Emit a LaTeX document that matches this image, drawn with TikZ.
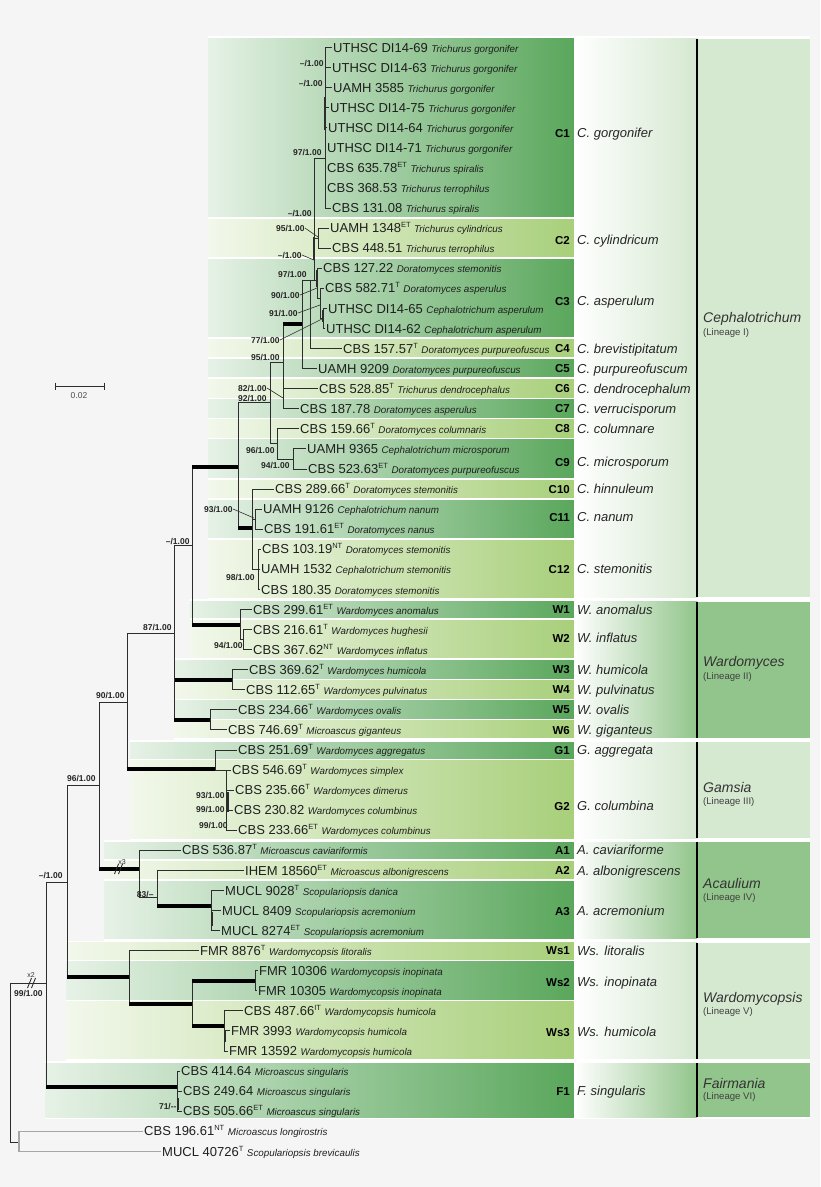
\documentclass[tikz,border=0pt]{standalone}
\usepackage{fontspec}
\setmainfont{Liberation Sans}
\definecolor{bg}{RGB}{245,245,245}
\definecolor{bandA}{RGB}{90,167,92}
\definecolor{bandB}{RGB}{168,207,122}
\definecolor{linL}{RGB}{213,232,208}
\definecolor{linM}{RGB}{146,197,139}
\definecolor{branch}{RGB}{45,45,45}
\newcommand{\strainfont}{\fontsize{13}{15}\selectfont}
\newcommand{\spfont}{\fontsize{9.8}{11}\selectfont\itshape}
\newcommand{\ts}[1]{\raisebox{5pt}{\fontsize{7.5}{8}\selectfont #1}}
\tikzset{br/.style={
            draw=branch,
            line width=0.9pt
        },
        thk/.style={
            draw=black,
            line width=4pt
        },
        og/.style={
            draw=gray!70,
            line width=1.4pt
        },
        ptr/.style={
            draw=branch,
            line width=0.6pt
        },
        leaf/.style={
            anchor=west,
            inner xsep=1.5pt,
            inner ysep=0pt,
            text height=9.3pt,
            text depth=0pt,
            font=\strainfont,
            text=black!88
        },
        supp/.style={
            anchor=east,
            inner sep=0.3pt,
            text height=6pt,
            text depth=0pt,
            font=\fontsize{8.5}{10}\selectfont\bfseries,
            text=black!85
        },
        cladelab/.style={
            anchor=east,
            inner sep=0pt,
            text height=8.2pt,
            text depth=0pt,
            font=\fontsize{11.5}{13}\selectfont\bfseries
        },
        spname/.style={
            anchor=west,
            inner sep=0pt,
            text height=9.3pt,
            text depth=0pt,
            font=\fontsize{13}{15}\selectfont\itshape,
            text=black!85
        },
        lineage/.style={
            anchor=west,
            inner sep=0pt,
            text height=10pt,
            text depth=0pt,
            font=\fontsize{14}{16}\selectfont\itshape,
            text=black!80
        },
        lineagesub/.style={
            anchor=west,
            inner sep=0pt,
            font=\fontsize{9.6}{11}\selectfont,
            text=black!75
        },
        brklab/.style={
            inner sep=0pt,
            font=\fontsize{7}{8}\selectfont,
            text=black!80
        }
    }
% leaf: [line style]{name}{parent}{x of text}{row}{strain}{species}
\newcommand{\leaf}[7][br]{%
    \node[leaf] (#2) at (#4-1.5,{47.5+20.07*#5}) {#6 {\spfont #7}};
    \draw[#1] (#3) |- (#2.west);}
\newcommand{\branch}[2]{\draw[br] (#1) |- (#2);}
\newcommand{\tbranch}[2]{\draw[br] (#1) |- (#2); \draw[thk] (#1 |- #2) -- (#2);}
\newcommand{\supp}[4]{\node[supp] (#1) at (#2,#3) {#4};}

\begin{document}
\begin{tikzpicture}[x=1pt,y=-1pt]
        \useasboundingbox (0,0) rectangle (820,1187);
        \fill[bg] (0,0) rectangle (820,1187);

        % clade bands
        \foreach \lx/\ya/\yb/\bc in {208/37.5/218.1/bandA, 208/218.1/258.2/bandB,
            208/258.2/338.5/bandA, 208/338.5/358.6/bandB, 208/358.6/378.6/bandA,
            208/378.6/398.7/bandB, 208/398.7/418.8/bandA, 208/418.8/438.8/bandB,
            208/438.8/479.0/bandA, 208/479.0/499.0/bandB, 208/499.0/539.2/bandA,
            208/539.2/598.2/bandB, 190/600.6/619.5/bandA, 190/619.5/659.6/bandB,
            174/659.6/679.7/bandA, 174/679.7/699.7/bandB, 174/699.7/719.8/bandA,
            174/719.8/738.7/bandB, 130/741.1/759.9/bandA, 130/759.9/839.0/bandB,
            104/841.4/860.3/bandA, 104/860.3/880.4/bandB, 104/880.4/939.4/bandA,
            66/941.8/960.7/bandB, 66/960.7/1000.8/bandA, 66/1000.8/1059.8/bandB,
            45/1062.2/1118/bandA}{
            \fill[white] (\lx,\ya-1.2) rectangle (574,\yb+1.2);
            \shade[left color=\bc!15!white, right color=\bc] (\lx,\ya+1) rectangle (574,\yb-1);
        }

        % species and lineage columns
        \fill[white] (574,36.3) rectangle (810,1119);
        \foreach \ya/\yb/\lc in {38.5/597.2/linL, 601.6/737.7/linM, 742.1/838.0/linL,
            842.4/938.4/linM, 942.8/1058.8/linL, 1063.2/1117/linM}{
            \shade[left color=white, right color=\lc] (574,\ya) rectangle (697,\yb);
            \fill[\lc] (697,\ya) rectangle (810,\yb);
            \draw[line width=1.6pt] (697,\ya) -- (697,\yb);
        }

        % internal nodes
        \coordinate (nC1) at (325,158);
        \coordinate (nC2) at (318,238);
        \coordinate (nC3) at (317,280);
        \coordinate (nC3a) at (320,298);
        \coordinate (nC3b) at (323,318);
        \coordinate (nCa) at (314,280);
        \coordinate (nCb) at (310,280);
        \coordinate (nCc) at (302,324);
        \coordinate (nCd) at (283,362);
        \coordinate (nCe) at (270,402);
        \coordinate (nC89) at (277,443);
        \coordinate (nC9) at (293,459);
        \coordinate (nCeph) at (238,467);
        \coordinate (nC1012) at (252,528);
        \coordinate (nC11) at (255,519);
        \coordinate (nC12) at (258,569);
        \coordinate (nCW) at (192,545);
        \coordinate (nW12) at (240,625);
        \coordinate (nW2) at (243,639);
        \coordinate (nWard) at (174,633);
        \coordinate (nW34) at (232,680);
        \coordinate (nW56) at (210,720);
        \coordinate (nWG) at (127,702);
        \coordinate (nG) at (215,769);
        \coordinate (nG2) at (226,770);
        \coordinate (nB1) at (99,785);
        \coordinate (nA) at (139,869);
        \coordinate (nA23) at (157,897);
        \coordinate (nA3) at (211,906);
        \coordinate (nB2) at (67,882);
        \coordinate (nWs) at (129,977);
        \coordinate (nWs23) at (192,1004);
        \coordinate (nWs2) at (255,981);
        \coordinate (nWs3) at (224,1026);
        \coordinate (nIn) at (46,983);
        \coordinate (nF) at (177,1087);
        \coordinate (nRoot) at (10,1062);
        \coordinate (nOut) at (19,1142);

        \branch{nCa}{nC1} \branch{nCa}{nC2} \branch{nCa}{nC3}
        \branch{nC3}{nC3a} \branch{nC3a}{nC3b}
        \branch{nCb}{nCa} \branch{nCc}{nCb}
        \tbranch{nCd}{nCc}
        \branch{nCe}{nCd} \branch{nCe}{nC89} \branch{nC89}{nC9}
        \branch{nCeph}{nCe} \tbranch{nCeph}{nC1012}
        \branch{nC1012}{nC11} \branch{nC1012}{nC12}
        \tbranch{nCW}{nCeph} \tbranch{nCW}{nW12}
        \branch{nW12}{nW2}
        \branch{nWard}{nCW} \tbranch{nWard}{nW34} \tbranch{nWard}{nW56}
        \branch{nWG}{nWard} \tbranch{nWG}{nG}
        \branch{nG}{nG2}
        \branch{nB1}{nWG} \tbranch{nB1}{nA}
        \branch{nA}{nA23} \tbranch{nA23}{nA3}
        \branch{nB2}{nB1} \tbranch{nB2}{nWs}
        \tbranch{nWs}{nWs23}
        \tbranch{nWs23}{nWs2} \tbranch{nWs23}{nWs3}
        \branch{nIn}{nB2} \tbranch{nIn}{nF}
        \branch{nRoot}{nIn} \branch{nRoot}{nOut}

        % short thick branches inside clades
        \draw[br, line width=2pt] (325,97) -- (325,130);
        \draw[br, line width=2.5pt] (314,237) -- (314,260);
        \draw[br, line width=2pt] (317,270) -- (317,287);
        \draw[br, line width=2pt] (323,310) -- (323,322);
        \draw[br, line width=2pt] (228,792) -- (228,812);
        \draw[br, line width=2pt] (212,912) -- (212,926);
        \draw[br, line width=2pt] (225,1030) -- (225,1042);
        \draw[br, line width=2pt] (178,1098) -- (178,1110);

        % breaks
        \coordinate (brkA) at (118,869);
        \draw[br] (brkA) ++(-3.5,5) -- ++(4,-10);
        \draw[br] (brkA) ++(0.5,5) -- ++(4,-10);
        \node[brklab] (x3) at (122,862) {x3};
        \coordinate (brkR) at (31,983);
        \draw[br] (brkR) ++(-3.5,5) -- ++(4,-10);
        \draw[br] (brkR) ++(0.5,5) -- ++(4,-10);
        \node[brklab] (x2) at (31,975) {x2};

        % leaves
        \leaf{l0}{nC1}{333}{0}{UTHSC DI14-69}{Trichurus gorgonifer}
        \leaf{l1}{nC1}{332}{1}{UTHSC DI14-63}{Trichurus gorgonifer}
        \leaf{l2}{nC1}{333}{2}{UAMH 3585}{Trichurus gorgonifer}
        \leaf{l3}{nC1}{330}{3}{UTHSC DI14-75}{Trichurus gorgonifer}
        \leaf{l4}{nC1}{328}{4}{UTHSC DI14-64}{Trichurus gorgonifer}
        \leaf{l5}{nC1}{327}{5}{UTHSC DI14-71}{Trichurus gorgonifer}
        \leaf{l6}{nC1}{327}{6}{CBS 635.78\ts{ET}}{Trichurus spiralis}
        \leaf{l7}{nC1}{327}{7}{CBS 368.53}{Trichurus terrophilus}
        \leaf{l8}{nC1}{332}{8}{CBS 131.08}{Trichurus spiralis}
        \leaf{l9}{nC2}{330}{9}{UAMH 1348\ts{ET}}{Trichurus cylindricus}
        \leaf{l10}{nC2}{332}{10}{CBS 448.51}{Trichurus terrophilus}
        \leaf{l11}{nC3}{323}{11}{CBS 127.22}{Doratomyces stemonitis}
        \leaf{l12}{nC3a}{325}{12}{CBS 582.71\ts{T}}{Doratomyces asperulus}
        \leaf{l13}{nC3b}{328}{13}{UTHSC DI14-65}{Cephalotrichum asperulum}
        \leaf{l14}{nC3b}{326}{14}{UTHSC DI14-62}{Cephalotrichum asperulum}
        \leaf{l15}{nCb}{343}{15}{CBS 157.57\ts{T}}{Doratomyces purpureofuscus}
        \leaf{l16}{nCc}{318}{16}{UAMH 9209}{Doratomyces purpureofuscus}
        \leaf{l17}{nCd}{319}{17}{CBS 528.85\ts{T}}{Trichurus dendrocephalus}
        \leaf{l18}{nCd}{300}{18}{CBS 187.78}{Doratomyces asperulus}
        \leaf{l19}{nC89}{300}{19}{CBS 159.66\ts{T}}{Doratomyces columnaris}
        \leaf{l20}{nC9}{307}{20}{UAMH 9365}{Cephalotrichum microsporum}
        \leaf{l21}{nC9}{308}{21}{CBS 523.63\ts{ET}}{Doratomyces purpureofuscus}
        \leaf{l22}{nC1012}{275}{22}{CBS 289.66\ts{T}}{Doratomyces stemonitis}
        \leaf{l23}{nC11}{263}{23}{UAMH 9126}{Cephalotrichum nanum}
        \leaf{l24}{nC11}{264}{24}{CBS 191.61\ts{ET}}{Doratomyces nanus}
        \leaf{l25}{nC12}{262}{25}{CBS 103.19\ts{NT}}{Doratomyces stemonitis}
        \leaf{l26}{nC12}{261}{26}{UAMH 1532}{Cephalotrichum stemonitis}
        \leaf{l27}{nC12}{261}{27}{CBS 180.35}{Doratomyces stemonitis}
        \leaf{l28}{nW12}{253}{28}{CBS 299.61\ts{ET}}{Wardomyces anomalus}
        \leaf{l29}{nW2}{253}{29}{CBS 216.61\ts{T}}{Wardomyces hughesii}
        \leaf{l30}{nW2}{253}{30}{CBS 367.62\ts{NT}}{Wardomyces inflatus}
        \leaf{l31}{nW34}{249}{31}{CBS 369.62\ts{T}}{Wardomyces humicola}
        \leaf{l32}{nW34}{246}{32}{CBS 112.65\ts{T}}{Wardomyces pulvinatus}
        \leaf{l33}{nW56}{238}{33}{CBS 234.66\ts{T}}{Wardomyces ovalis}
        \leaf{l34}{nW56}{228}{34}{CBS 746.69\ts{T}}{Microascus giganteus}
        \leaf{l35}{nG}{238}{35}{CBS 251.69\ts{T}}{Wardomyces aggregatus}
        \leaf{l36}{nG2}{232}{36}{CBS 546.69\ts{T}}{Wardomyces simplex}
        \leaf{l37}{nG2}{235}{37}{CBS 235.66\ts{T}}{Wardomyces dimerus}
        \leaf{l38}{nG2}{234}{38}{CBS 230.82}{Wardomyces columbinus}
        \leaf{l39}{nG2}{238}{39}{CBS 233.66\ts{ET}}{Wardomyces columbinus}
        \leaf{l40}{nA}{182}{40}{CBS 536.87\ts{T}}{Microascus caviariformis}
        \leaf{l41}{nA23}{245}{41}{IHEM 18560\ts{ET}}{Microascus albonigrescens}
        \leaf{l42}{nA3}{225}{42}{MUCL 9028\ts{T}}{Scopulariopsis danica}
        \leaf{l43}{nA3}{222}{43}{MUCL 8409}{Scopulariopsis acremonium}
        \leaf{l44}{nA3}{221}{44}{MUCL 8274\ts{ET}}{Scopulariopsis acremonium}
        \leaf{l45}{nWs}{200}{45}{FMR 8876\ts{T}}{Wardomycopsis litoralis}
        \leaf{l46}{nWs2}{259}{46}{FMR 10306}{Wardomycopsis inopinata}
        \leaf{l47}{nWs2}{258}{47}{FMR 10305}{Wardomycopsis inopinata}
        \leaf{l48}{nWs3}{244}{48}{CBS 487.66\ts{IT}}{Wardomycopsis humicola}
        \leaf{l49}{nWs3}{231}{49}{FMR 3993}{Wardomycopsis humicola}
        \leaf{l50}{nWs3}{229}{50}{FMR 13592}{Wardomycopsis humicola}
        \leaf{l51}{nF}{181}{51}{CBS 414.64}{Microascus singularis}
        \leaf{l52}{nF}{183}{52}{CBS 249.64}{Microascus singularis}
        \leaf{l53}{nF}{183}{53}{CBS 505.66\ts{ET}}{Microascus singularis}
        \leaf[og]{l54}{nOut}{144}{54}{CBS 196.61\ts{NT}}{Microascus longirostris}
        \leaf[og]{l55}{nOut}{162}{55}{MUCL 40726\ts{T}}{Scopulariopsis brevicaulis}

        % support values
        \supp{s1}{324}{63}{--/1.00}
        \supp{s2}{323}{83}{--/1.00}
        \supp{s3}{322}{152}{97/1.00}
        \supp{s4}{312}{213}{--/1.00}
        \supp{s5}{305}{228}{95/1.00}
        \supp{s6}{302}{255}{--/1.00}
        \supp{s7}{307}{274}{97/1.00}
        \supp{s8}{300}{295}{90/1.00}
        \supp{s9}{298}{313}{91/1.00}
        \supp{s10}{280}{340}{77/1.00}
        \supp{s11}{280}{357}{95/1.00}
        \supp{s12}{267}{388}{82/1.00}
        \supp{s13}{267}{398}{92/1.00}
        \supp{s14}{275}{450}{96/1.00}
        \supp{s15}{290}{465}{94/1.00}
        \supp{s16}{233}{509}{93/1.00}
        \supp{s17}{255}{577}{98/1.00}
        \supp{s18}{190}{541}{--/1.00}
        \supp{s19}{172}{627}{87/1.00}
        \supp{s20}{243}{645}{94/1.00}
        \supp{s21}{125}{695}{90/1.00}
        \supp{s22}{96}{778}{96/1.00}
        \supp{s23}{225}{795}{93/1.00}
        \supp{s24}{225}{809}{99/1.00}
        \supp{s25}{228}{825}{99/1.00}
        \supp{s26}{63}{875}{--/1.00}
        \supp{s27}{154}{894}{83/--}
        \supp{s28}{43}{993}{99/1.00}
        \supp{s29}{177}{1106}{71/-{}-}

        \coordinate (pC2) at (318,237);
        \coordinate (pCa) at (314,260);
        \coordinate (pC3) at (317,288);
        \coordinate (pC3a) at (320,305);
        \coordinate (pC3b) at (322,319);
        \coordinate (pCd) at (283,398);
        \coordinate (pC11) at (254,518);
        \draw[ptr] (s5.east) -- (pC2);
        \draw[ptr] (s6.east) -- (pCa);
        \draw[ptr] (s8.east) -- (pC3);
        \draw[ptr] (s9.east) -- (pC3a);
        \draw[ptr] (s10.east) -- (pC3b);
        \draw[ptr] (s12.east) -- (pCd);
        \draw[ptr] (s16.east) -- (pC11);

        % scale bar
        \coordinate (sbL) at (55,386);
        \coordinate (sbR) at (104,386);
        \draw[br] (sbL) -- (sbR);
        \draw[br] (sbL) ++(0,-3.5) -- ++(0,7);
        \draw[br] (sbR) ++(0,-3.5) -- ++(0,7);
        \node[inner sep=0pt, font=\fontsize{8.5}{10}\selectfont, text=black!70] (sbT) at (79,396) {0.02};

        % clade labels and species
        \foreach \nm/\yy/\spn in {C1/133/C. gorgonifer, C2/240/C. cylindricum,
            C3/301/C. asperulum, C4/348.6/C. brevistipitatum, C5/368.6/C. purpureofuscum,
            C6/388.7/C. dendrocephalum, C7/408.8/C. verrucisporum, C8/428.8/C. columnare,
            C9/462/C. microsporum, C10/489/C. hinnuleum, C11/517/C. nanum,
            C12/569.3/C. stemonitis, W1/609.5/W. anomalus, W2/638/W. inflatus,
            W3/669.7/W. humicola, W4/689.7/W. pulvinatus, W5/709.8/W. ovalis,
            W6/729.9/W. giganteus, G1/749.9/G. aggregata, G2/806/G. columbina,
            A1/850.3/A. caviariforme, A2/870.4/A. albonigrescens, A3/911/A. acremonium,
            Ws1/950.7/Ws. litoralis, Ws2/982/Ws. inopinata, Ws3/1032/Ws. humicola,
            F1/1091/F. singularis}{
            \node[cladelab] (cl\nm) at (570,\yy) {\nm};
            \node[spname] (sp\nm) at (577,\yy) {\spn};
        }

        % lineages
        \node[lineage] (lnC) at (703,317) {Cephalotrichum};
        \node[lineagesub] (lnCs) at (703,333) {(Lineage I)};
        \node[lineage] (lnW) at (703,661) {Wardomyces};
        \node[lineagesub] (lnWs) at (703,677) {(Lineage II)};
        \node[lineage] (lnG) at (703,787) {Gamsia};
        \node[lineagesub] (lnGs) at (703,802) {(Lineage III)};
        \node[lineage] (lnA) at (703,883) {Acaulium};
        \node[lineagesub] (lnAs) at (703,898) {(Lineage IV)};
        \node[lineage] (lnWy) at (703,997) {Wardomycopsis};
        \node[lineagesub] (lnWys) at (703,1012) {(Lineage V)};
        \node[lineage] (lnF) at (703,1083) {Fairmania};
        \node[lineagesub] (lnFs) at (703,1097) {(Lineage VI)};
\end{tikzpicture}
\end{document}
